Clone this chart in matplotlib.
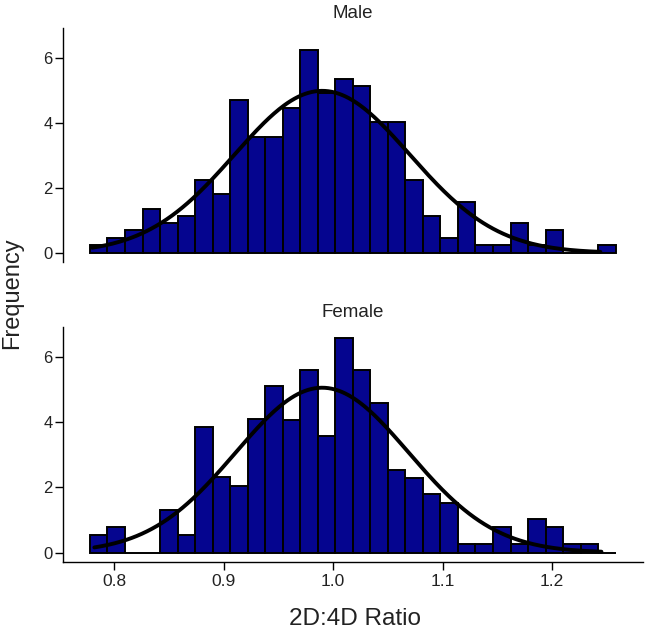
import numpy as np
import matplotlib
matplotlib.use('Agg')
import matplotlib.pyplot as plt

plt.rcParams['font.family'] = ['Liberation Sans', 'DejaVu Sans']

# Histogram bins (2D:4D ratio)
bin_start = 0.778
bin_width = 0.016
n_bins = 30

# Bar heights
male_freq = [0.25, 0.47, 0.71, 1.36, 0.91, 1.14, 2.25, 1.81, 4.71, 3.58,
             3.58, 4.47, 6.25, 4.92, 5.35, 5.14, 4.02, 4.02, 2.25, 1.14,
             0.47, 1.58, 0.25, 0.25, 0.91, 0.25, 0.69, 0.0, 0.0, 0.25]
female_freq = [0.53, 0.78, 0.0, 0.0, 1.29, 0.53, 3.84, 2.31, 2.04, 4.09,
               5.09, 4.06, 5.59, 3.56, 6.58, 5.59, 4.57, 2.54, 2.29, 1.78,
               1.53, 0.27, 0.27, 0.78, 0.27, 1.03, 0.78, 0.27, 0.27, 0.0]

# Fitted normal curves (mean, sd, range)
male_fit = (0.990, 0.080, 0.780, 1.244)
female_fit = (0.990, 0.079, 0.782, 1.245)

edges = bin_start + bin_width * np.arange(n_bins)

fig = plt.figure(figsize=(6.45, 6.31), dpi=100)
ax_m = fig.add_axes([0.0977, 0.5848, 0.8993, 0.3708])
ax_f = fig.add_axes([0.0977, 0.1098, 0.8993, 0.3725])

for ax, freq, fit, title in [(ax_m, male_freq, male_fit, 'Male'),
                             (ax_f, female_freq, female_fit, 'Female')]:
    ax.bar(edges, freq, width=bin_width, align='edge', color='#05058F',
           edgecolor='black', linewidth=1.4)
    mu, sd, lo, hi = fit
    xs = np.linspace(lo, hi, 300)
    ys = np.exp(-0.5 * ((xs - mu) / sd) ** 2) / (sd * np.sqrt(2 * np.pi))
    ax.plot(xs, ys, color='black', linewidth=2.8, solid_capstyle='round')

    ax.set_xlim(0.7534, 1.283)
    ax.set_ylim(-0.28, 6.92)
    ax.set_yticks([0, 2, 4, 6])
    ax.set_title(title, fontsize=13.5, pad=7, color='#222222')
    ax.spines['top'].set_visible(False)
    ax.spines['right'].set_visible(False)
    ax.tick_params(axis='y', length=5.5, width=1.0, labelsize=12, pad=2,
                   labelcolor='#222222')
    ax.tick_params(axis='x', length=5.5, width=1.0, labelsize=12.5, pad=3,
                   labelcolor='#222222')
    ax.spines['left'].set_linewidth(1.0)
    ax.spines['bottom'].set_linewidth(1.0)

ax_m.spines['bottom'].set_visible(False)
ax_m.set_xticks([])
ax_f.set_xticks([0.8, 0.9, 1.0, 1.1, 1.2])
ax_f.set_xticklabels(['0.8', '0.9', '1.0', '1.1', '1.2'])

fig.text(0.0186, 0.535, 'Frequency', rotation=90, ha='center', va='center',
         fontsize=17, color='#222222')
fig.text(0.551, 0.019, '2D:4D Ratio', ha='center', va='center',
         fontsize=17.5, color='#222222')

fig.savefig('out.png', dpi=100)
